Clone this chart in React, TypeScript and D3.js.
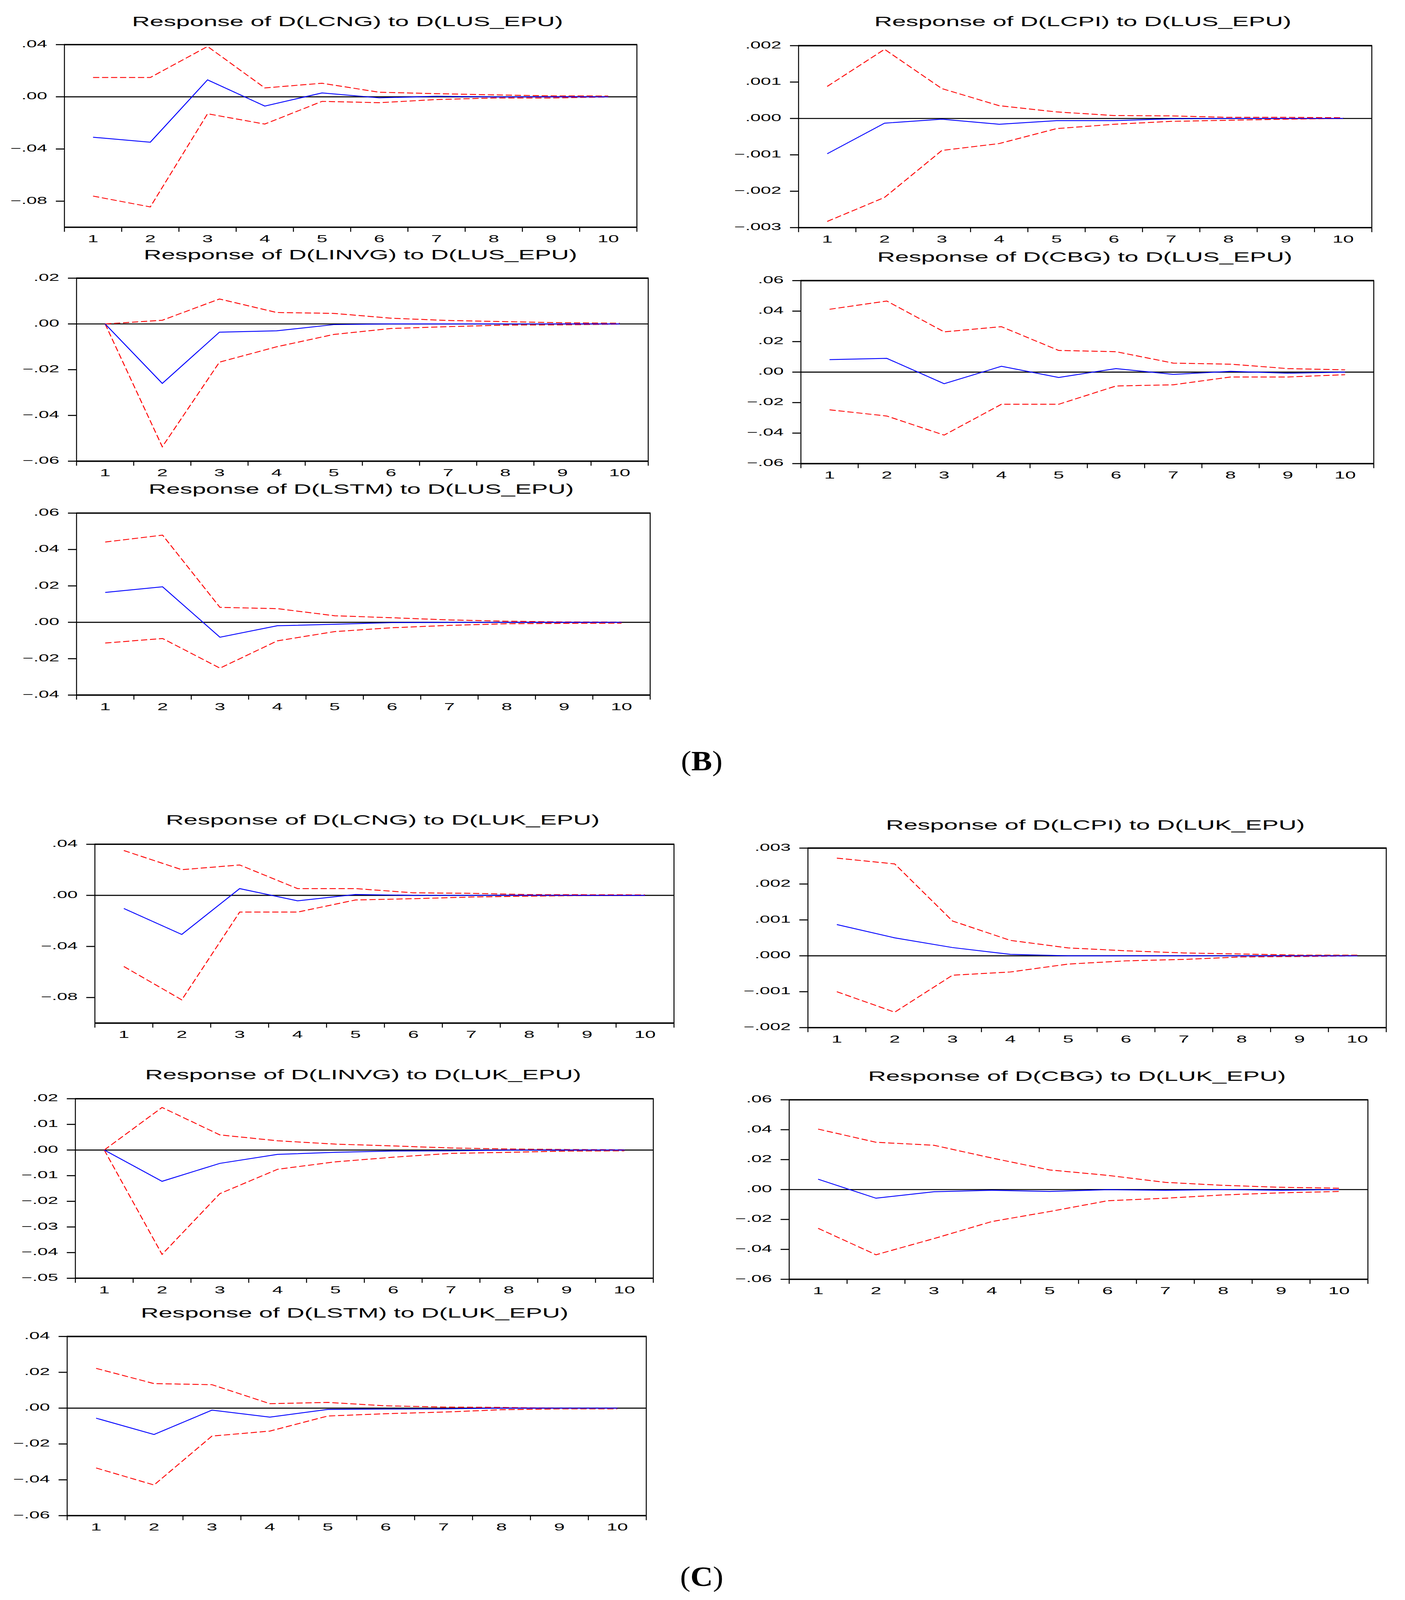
import React, { useEffect } from "react";
import * as d3 from "d3";

const WIDTH = 3598;
const HEIGHT = 4590;

const periods = [1, 2, 3, 4, 5, 6, 7, 8, 9, 10];

// (B) responses to D(LUS_EPU)
const usCngIrf = [-0.031, -0.0348, 0.013, -0.0071, 0.003, -0.0008, 0.0004, -0.0001, 0, 0];
const usCngUpper = [0.0148, 0.0148, 0.0386, 0.0068, 0.0104, 0.0035, 0.0024, 0.0015, 0.0007, 0.0006];
const usCngLower = [-0.0761, -0.0844, -0.013, -0.0209, -0.0035, -0.0045, -0.0021, -0.0009, -0.0009, -0.0001];

const usCpiIrf = [-0.00097, -0.00013, -0.00002, -0.00016, -0.00006, -0.00006, -0.00001, 0, 0, 0];
const usCpiUpper = [0.00088, 0.0019, 0.00082, 0.00035, 0.00018, 0.00008, 0.00007, 0.00003, 0.00003, 0.00002];
const usCpiLower = [-0.00283, -0.00217, -0.00088, -0.00069, -0.00028, -0.00016, -0.00008, -0.00005, -0.00002, 0];

const usInvIrf = [0, -0.026, -0.0036, -0.003, -0.0003, 0, 0, 0, 0, 0];
const usInvUpper = [0, 0.0016, 0.0109, 0.005, 0.0046, 0.0025, 0.0015, 0.001, 0.0005, 0.0003];
const usInvLower = [0, -0.0537, -0.0167, -0.01, -0.0046, -0.002, -0.0012, -0.0005, -0.0004, -0.0001];

const usCbgIrf = [0.0082, 0.009, -0.0076, 0.0038, -0.0035, 0.0023, -0.0015, 0.0005, -0.0007, 0];
const usCbgUpper = [0.0412, 0.0466, 0.0264, 0.0298, 0.0142, 0.0134, 0.0059, 0.0052, 0.0023, 0.0015];
const usCbgLower = [-0.0247, -0.0288, -0.0413, -0.0211, -0.0211, -0.0091, -0.0083, -0.0032, -0.0032, -0.0017];

const usStmIrf = [0.0164, 0.0195, -0.0082, -0.0019, -0.0011, -0.0002, 0, 0, 0, 0];
const usStmUpper = [0.0441, 0.0479, 0.0082, 0.0075, 0.0036, 0.0025, 0.0013, 0.0006, 0.0002, 0.0001];
const usStmLower = [-0.0114, -0.0089, -0.0252, -0.0102, -0.0051, -0.003, -0.0017, -0.0008, -0.0006, -0.0005];

// (C) responses to D(LUK_EPU)
const ukCngIrf = [-0.0103, -0.0306, 0.0053, -0.0043, 0.0007, 0, 0, 0.0001, 0, 0];
const ukCngUpper = [0.0351, 0.0201, 0.0238, 0.0053, 0.0053, 0.002, 0.0016, 0.0006, 0.0005, 0.0004];
const ukCngLower = [-0.0557, -0.0818, -0.0131, -0.0131, -0.0036, -0.0026, -0.0013, -0.0006, -0.0001, 0];

const ukCpiIrf = [0.00087, 0.0005, 0.00023, 0.00004, 0, 0, 0, 0, 0, 0];
const ukCpiUpper = [0.00272, 0.00256, 0.00097, 0.00043, 0.00022, 0.00014, 0.00008, 0.00005, 0.00002, 0.00002];
const ukCpiLower = [-0.001, -0.00157, -0.00054, -0.00045, -0.00023, -0.00014, -0.0001, -0.00003, -0.00002, 0];

const ukInvIrf = [0, -0.0122, -0.0052, -0.0017, -0.0009, -0.0004, -0.0003, 0, 0, 0];
const ukInvUpper = [0, 0.0166, 0.0059, 0.0036, 0.0023, 0.0016, 0.0008, 0.0004, 0.0002, 0.0001];
const ukInvLower = [0, -0.0407, -0.017, -0.0075, -0.0046, -0.0028, -0.0013, -0.0009, -0.0004, -0.0003];

const ukCbgIrf = [0.0069, -0.0058, -0.0015, -0.0005, -0.0013, -0.0001, -0.0005, 0, -0.0005, 0];
const ukCbgUpper = [0.0404, 0.0316, 0.0296, 0.0211, 0.0131, 0.0095, 0.0048, 0.0028, 0.0015, 0.0009];
const ukCbgLower = [-0.0259, -0.0436, -0.0328, -0.0214, -0.0147, -0.0075, -0.0058, -0.0036, -0.0022, -0.0013];

const ukStmIrf = [-0.0056, -0.0147, -0.0011, -0.005, -0.0007, -0.0005, -0.0004, 0, 0, 0];
const ukStmUpper = [0.0222, 0.0137, 0.0131, 0.0025, 0.0032, 0.0013, 0.0006, 0.0004, 0, 0];
const ukStmLower = [-0.0334, -0.0429, -0.0156, -0.0128, -0.0044, -0.0031, -0.0022, -0.0009, -0.0004, -0.0004];

// y tick values
const ticksCng = [0.04, 0, -0.04, -0.08];
const ticksUsCpi = [0.002, 0.001, 0, -0.001, -0.002, -0.003];
const ticksUkCpi = [0.003, 0.002, 0.001, 0, -0.001, -0.002];
const ticksUsInv = [0.02, 0, -0.02, -0.04, -0.06];
const ticksUkInv = [0.02, 0.01, 0, -0.01, -0.02, -0.03, -0.04, -0.05];
const ticksCbg = [0.06, 0.04, 0.02, 0, -0.02, -0.04, -0.06];
const ticksUsStm = [0.06, 0.04, 0.02, 0, -0.02, -0.04];
const ticksUkStm = [0.04, 0.02, 0, -0.02, -0.04, -0.06];

const FONT = "'Liberation Sans', Arial, sans-serif";
const TEXT_SX = 1.7; // the original figure is stretched horizontally

type PanelProps = {
  title: string;
  irf: number[];
  upper: number[];
  lower: number[];
  domain: [number, number];
  ticks: number[];
  digits: number;
  left: number;
  right: number;
  top: number;
  bottom: number;
  titleX: number;
  titleY: number;
  titleW: number;
};

const fmt = (v: number, digits: number) =>
  d3.format(`.${digits}f`)(v).replace("0.", ".");

const Panel = (p: PanelProps) => {
  const x = d3.scalePoint<number>().domain(periods).range([p.left, p.right]).padding(0.5);
  const y = d3.scaleLinear().domain(p.domain).range([p.bottom, p.top]);
  const step = x.step();

  const line = d3
    .line<number>()
    .x((_, i) => x(periods[i]) as number)
    .y((d) => y(d));

  const boundaries = periods.map((d) => (x(d) as number) - step / 2).concat([p.right]);

  return (
    <g>
      <text
        x={p.titleX - p.titleW / 2}
        y={p.titleY}
        fontFamily={FONT}
        fontSize={40}
        textLength={p.titleW}
        lengthAdjust="spacingAndGlyphs"
      >
        {p.title}
      </text>

      {/* zero line */}
      <line x1={p.left} x2={p.right} y1={y(0)} y2={y(0)} stroke="black" strokeWidth={3} />

      <path d={line(p.upper) || ""} fill="none" stroke="#ff0000" strokeWidth={2.5} strokeDasharray="16 7" />
      <path d={line(p.lower) || ""} fill="none" stroke="#ff0000" strokeWidth={2.5} strokeDasharray="16 7" />
      <path d={line(p.irf) || ""} fill="none" stroke="#0000ff" strokeWidth={2.5} />

      {/* frame */}
      <line x1={p.left} x2={p.left} y1={p.top} y2={p.bottom} stroke="black" strokeWidth={2.5} />
      <line x1={p.right} x2={p.right} y1={p.top} y2={p.bottom} stroke="black" strokeWidth={2.5} />
      <line x1={p.left - 1} x2={p.right + 1} y1={p.top} y2={p.top} stroke="black" strokeWidth={4} />
      <line x1={p.left - 1} x2={p.right + 1} y1={p.bottom} y2={p.bottom} stroke="black" strokeWidth={4} />

      {/* y axis */}
      {p.ticks.map((t, i) => (
        <g key={"y" + i}>
          <line x1={p.left - 22} x2={p.left} y1={y(t)} y2={y(t)} stroke="black" strokeWidth={3} />
          <text
            transform={`translate(${p.left - 44},${y(t)}) scale(${TEXT_SX},1)`}
            textAnchor="end"
            dominantBaseline="middle"
            fontFamily={FONT}
            fontSize={28}
          >
            {fmt(t, p.digits)}
          </text>
        </g>
      ))}

      {/* x axis */}
      {boundaries.map((b, i) => (
        <line key={"b" + i} x1={b} x2={b} y1={p.bottom} y2={p.bottom + 13} stroke="black" strokeWidth={2.5} />
      ))}
      {periods.map((d) => (
        <text
          key={"x" + d}
          transform={`translate(${x(d)},${p.bottom + 43}) scale(${TEXT_SX},1)`}
          textAnchor="middle"
          fontFamily={FONT}
          fontSize={29}
        >
          {d}
        </text>
      ))}
    </g>
  );
};

const panels: PanelProps[] = [
  {
    title: "Response of D(LCNG) to D(LUS_EPU)",
    irf: usCngIrf, upper: usCngUpper, lower: usCngLower,
    domain: [-0.1, 0.04], ticks: ticksCng, digits: 2,
    left: 165, right: 1631, top: 128, bottom: 652,
    titleX: 890, titleY: 75, titleW: 1104,
  },
  {
    title: "Response of D(LCPI) to D(LUS_EPU)",
    irf: usCpiIrf, upper: usCpiUpper, lower: usCpiLower,
    domain: [-0.003, 0.002], ticks: ticksUsCpi, digits: 3,
    left: 2045, right: 3513, top: 131, bottom: 653,
    titleX: 2773, titleY: 75, titleW: 1068,
  },
  {
    title: "Response of D(LINVG) to D(LUS_EPU)",
    irf: usInvIrf, upper: usInvUpper, lower: usInvLower,
    domain: [-0.06, 0.02], ticks: ticksUsInv, digits: 2,
    left: 196, right: 1660, top: 798, bottom: 1323,
    titleX: 923, titleY: 744, titleW: 1110,
  },
  {
    title: "Response of D(CBG) to D(LUS_EPU)",
    irf: usCbgIrf, upper: usCbgUpper, lower: usCbgLower,
    domain: [-0.06, 0.06], ticks: ticksCbg, digits: 2,
    left: 2051, right: 3518, top: 805, bottom: 1330,
    titleX: 2778, titleY: 751, titleW: 1063,
  },
  {
    title: "Response of D(LSTM) to D(LUS_EPU)",
    irf: usStmIrf, upper: usStmUpper, lower: usStmLower,
    domain: [-0.04, 0.06], ticks: ticksUsStm, digits: 2,
    left: 196, right: 1665, top: 1472, bottom: 1994,
    titleX: 925, titleY: 1416, titleW: 1089,
  },
  {
    title: "Response of D(LCNG) to D(LUK_EPU)",
    irf: ukCngIrf, upper: ukCngUpper, lower: ukCngLower,
    domain: [-0.1, 0.04], ticks: ticksCng, digits: 2,
    left: 243, right: 1726, top: 2422, bottom: 2935,
    titleX: 980, titleY: 2366, titleW: 1111,
  },
  {
    title: "Response of D(LCPI) to D(LUK_EPU)",
    irf: ukCpiIrf, upper: ukCpiUpper, lower: ukCpiLower,
    domain: [-0.002, 0.003], ticks: ticksUkCpi, digits: 3,
    left: 2069, right: 3550, top: 2433, bottom: 2948,
    titleX: 2805, titleY: 2380, titleW: 1073,
  },
  {
    title: "Response of D(LINVG) to D(LUK_EPU)",
    irf: ukInvIrf, upper: ukInvUpper, lower: ukInvLower,
    domain: [-0.05, 0.02], ticks: ticksUkInv, digits: 2,
    left: 193, right: 1673, top: 3152, bottom: 3667,
    titleX: 930, titleY: 3096, titleW: 1117,
  },
  {
    title: "Response of D(CBG) to D(LUK_EPU)",
    irf: ukCbgIrf, upper: ukCbgUpper, lower: ukCbgLower,
    domain: [-0.06, 0.06], ticks: ticksCbg, digits: 2,
    left: 2021, right: 3503, top: 3155, bottom: 3670,
    titleX: 2758, titleY: 3101, titleW: 1070,
  },
  {
    title: "Response of D(LSTM) to D(LUK_EPU)",
    irf: ukStmIrf, upper: ukStmUpper, lower: ukStmLower,
    domain: [-0.06, 0.04], ticks: ticksUkStm, digits: 2,
    left: 172, right: 1655, top: 3834, bottom: 4348,
    titleX: 908, titleY: 3780, titleW: 1095,
  },
];

const Caption = ({ label, y }: { label: string; y: number }) => (
  <text x={1797} y={y} textAnchor="middle" fontFamily="'Liberation Serif', 'Times New Roman', serif" fontSize={80}>
    (<tspan fontWeight="bold">{label}</tspan>)
  </text>
);

export default function App() {
  useEffect(() => {
    document.body.style.margin = "0";
    document.body.style.overflow = "hidden";
  }, []);

  // the svg fills the whole viewport; the viewBox keeps the reference's pixel grid
  return (
    <svg
      viewBox={`0 0 ${WIDTH} ${HEIGHT}`}
      preserveAspectRatio="none"
      style={{ position: "absolute", left: 0, top: 0, width: "100vw", height: "100vh", display: "block" }}
    >
      <rect width={WIDTH} height={HEIGHT} fill="white" />
      {panels.map((p, i) => (
        <Panel key={i} {...p} />
      ))}
      <Caption label="B" y={2210} />
      <Caption label="C" y={4550} />
    </svg>
  );
}
